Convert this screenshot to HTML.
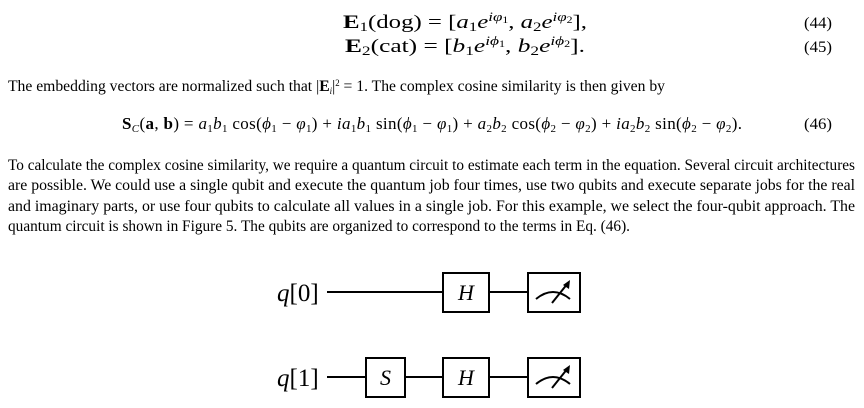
<!DOCTYPE html>
<html><head><meta charset="utf-8"><style>
html,body{margin:0;padding:0;background:#fff;width:864px;height:408px;overflow:hidden}
text{font-family:"Liberation Serif",serif;fill:#000}
</style></head><body>
<svg width="864" height="408" xmlns="http://www.w3.org/2000/svg">
<g font-size="16">
<text x="343" y="28" font-size="19" textLength="244" lengthAdjust="spacingAndGlyphs"><tspan font-weight="bold">E</tspan><tspan font-size="13" dy="3">1</tspan><tspan dy="-3">(dog) = [</tspan><tspan font-style="italic">a</tspan><tspan font-size="13" dy="3">1</tspan><tspan font-style="italic" dy="-3">e</tspan><tspan font-size="13" font-style="italic" dy="-7">iφ</tspan><tspan font-size="9" dy="2">1</tspan><tspan dy="5">, </tspan><tspan font-style="italic">a</tspan><tspan font-size="13" dy="3">2</tspan><tspan font-style="italic" dy="-3">e</tspan><tspan font-size="13" font-style="italic" dy="-7">iφ</tspan><tspan font-size="9" dy="2">2</tspan><tspan dy="5">],</tspan></text>
<text x="345" y="52" font-size="19" textLength="240" lengthAdjust="spacingAndGlyphs"><tspan font-weight="bold">E</tspan><tspan font-size="13" dy="3">2</tspan><tspan dy="-3">(cat) = [</tspan><tspan font-style="italic">b</tspan><tspan font-size="13" dy="3">1</tspan><tspan font-style="italic" dy="-3">e</tspan><tspan font-size="13" font-style="italic" dy="-7">iϕ</tspan><tspan font-size="9" dy="2">1</tspan><tspan dy="5">, </tspan><tspan font-style="italic">b</tspan><tspan font-size="13" dy="3">2</tspan><tspan font-style="italic" dy="-3">e</tspan><tspan font-size="13" font-style="italic" dy="-7">iϕ</tspan><tspan font-size="9" dy="2">2</tspan><tspan dy="5">].</tspan></text>
<text x="804" y="28" textLength="28" lengthAdjust="spacingAndGlyphs">(44)</text>
<text x="804" y="52" textLength="28" lengthAdjust="spacingAndGlyphs">(45)</text>
<text x="8" y="91" textLength="657" lengthAdjust="spacingAndGlyphs">The embedding vectors are normalized such that |<tspan font-weight="bold">E</tspan><tspan font-style="italic" font-size="9" dy="3">i</tspan><tspan dy="-3">|</tspan><tspan font-size="9" dy="-5">2</tspan><tspan dy="5"> = 1. The complex cosine similarity is then given by</tspan></text>
<text x="122" y="129" font-size="17" textLength="620" lengthAdjust="spacing"><tspan font-weight="bold">S</tspan><tspan font-size="11" font-style="italic" dy="3">C</tspan><tspan dy="-3">(</tspan><tspan font-weight="bold">a</tspan>, <tspan font-weight="bold">b</tspan>) = <tspan font-style="italic">a</tspan><tspan font-size="11" dy="3">1</tspan><tspan font-style="italic" dy="-3">b</tspan><tspan font-size="11" dy="3">1</tspan><tspan dy="-3"> cos(</tspan><tspan font-style="italic">ϕ</tspan><tspan font-size="11" dy="3">1</tspan><tspan dy="-3"> − </tspan><tspan font-style="italic">φ</tspan><tspan font-size="11" dy="3">1</tspan><tspan dy="-3">) + </tspan><tspan font-style="italic">ia</tspan><tspan font-size="11" dy="3">1</tspan><tspan font-style="italic" dy="-3">b</tspan><tspan font-size="11" dy="3">1</tspan><tspan dy="-3"> sin(</tspan><tspan font-style="italic">ϕ</tspan><tspan font-size="11" dy="3">1</tspan><tspan dy="-3"> − </tspan><tspan font-style="italic">φ</tspan><tspan font-size="11" dy="3">1</tspan><tspan dy="-3">) + </tspan><tspan font-style="italic">a</tspan><tspan font-size="11" dy="3">2</tspan><tspan font-style="italic" dy="-3">b</tspan><tspan font-size="11" dy="3">2</tspan><tspan dy="-3"> cos(</tspan><tspan font-style="italic">ϕ</tspan><tspan font-size="11" dy="3">2</tspan><tspan dy="-3"> − </tspan><tspan font-style="italic">φ</tspan><tspan font-size="11" dy="3">2</tspan><tspan dy="-3">) + </tspan><tspan font-style="italic">ia</tspan><tspan font-size="11" dy="3">2</tspan><tspan font-style="italic" dy="-3">b</tspan><tspan font-size="11" dy="3">2</tspan><tspan dy="-3"> sin(</tspan><tspan font-style="italic">ϕ</tspan><tspan font-size="11" dy="3">2</tspan><tspan dy="-3"> − </tspan><tspan font-style="italic">φ</tspan><tspan font-size="11" dy="3">2</tspan><tspan dy="-3">).</tspan></text>
<text x="804" y="129" textLength="28" lengthAdjust="spacingAndGlyphs">(46)</text>
<text x="8" y="170" textLength="847" lengthAdjust="spacingAndGlyphs">To calculate the complex cosine similarity, we require a quantum circuit to estimate each term in the equation. Several circuit architectures</text>
<text x="8" y="190" textLength="847" lengthAdjust="spacingAndGlyphs">are possible. We could use a single qubit and execute the quantum job four times, use two qubits and execute separate jobs for the real</text>
<text x="8" y="211" textLength="847" lengthAdjust="spacingAndGlyphs">and imaginary parts, or use four qubits to calculate all values in a single job. For this example, we select the four-qubit approach. The</text>
<text x="8" y="231" textLength="622" lengthAdjust="spacingAndGlyphs">quantum circuit is shown in Figure 5. The qubits are organized to correspond to the terms in Eq. (46).</text>
</g>
<g stroke="#000" stroke-width="2" fill="none">
<line x1="327" y1="292" x2="443" y2="292"/>
<line x1="489" y1="292" x2="528" y2="292"/>
<line x1="327" y1="377" x2="366" y2="377"/>
<line x1="405" y1="377" x2="443" y2="377"/>
<line x1="489" y1="377" x2="528" y2="377"/>
<rect x="443" y="273" width="46" height="39"/>
<rect x="528" y="273" width="52" height="39"/>
<rect x="366" y="358" width="39" height="39"/>
<rect x="443" y="358" width="46" height="39"/>
<rect x="528" y="358" width="52" height="39"/>
<path d="M536 299 Q553 285 570 299"/>
<line x1="552" y1="303" x2="568" y2="283"/>
<path d="M536 384 Q553 370 570 384"/>
<line x1="552" y1="388" x2="568" y2="368"/>
</g>
<polygon points="570,280 569,289 563,285" fill="#000"/>
<polygon points="570,365 569,374 563,370" fill="#000"/>
<g font-size="25">
<text x="277" y="301"><tspan font-style="italic">q</tspan>[0]</text>
<text x="277" y="386"><tspan font-style="italic">q</tspan>[1]</text>
<text x="466" y="300" font-size="22" font-style="italic" text-anchor="middle">H</text>
<text x="466" y="385" font-size="22" font-style="italic" text-anchor="middle">H</text>
<text x="385.5" y="385" font-size="22" font-style="italic" text-anchor="middle">S</text>
</g>
</svg>
</body></html>
